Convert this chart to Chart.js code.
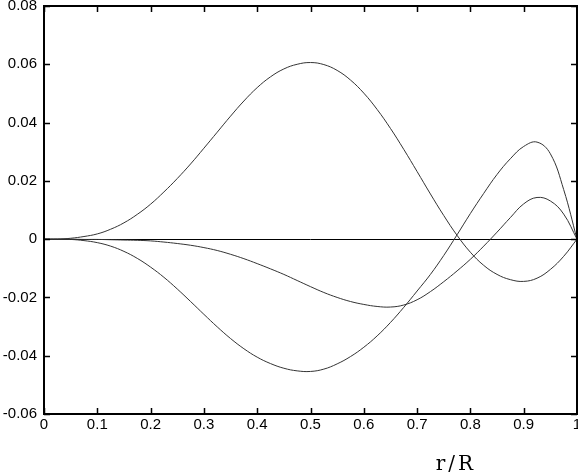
<!DOCTYPE html>
<html>
<head>
<meta charset="utf-8">
<script src="https://cdn.jsdelivr.net/npm/chart.js@4"></script>
<style>
  html, body { margin: 0; padding: 0; background: #fff; }
  #wrap { width: 578px; height: 472px; }
</style>
</head>
<body>
<div id="wrap"><canvas id="chart" width="578" height="472"></canvas></div>
<script>
// r/R sample positions, every 0.025
const radius = [0, 0.025, 0.05, 0.075, 0.1, 0.125, 0.15, 0.175, 0.2, 0.225, 0.25, 0.275, 0.3, 0.325, 0.35, 0.375,
                0.4, 0.425, 0.45, 0.475, 0.5, 0.525, 0.55, 0.575, 0.6, 0.625, 0.65, 0.675, 0.7, 0.725, 0.75, 0.775,
                0.8, 0.825, 0.85, 0.875, 0.9, 0.925, 0.95, 0.975, 1];

// curve with the big positive hump
const modeUp = [0, 0, 0.0003, 0.0009, 0.0018, 0.0034, 0.0056, 0.0085, 0.012, 0.0162, 0.0208, 0.0258, 0.0312, 0.0367, 0.0422, 0.0474,
                0.052, 0.0557, 0.0584, 0.06, 0.0606, 0.0599, 0.0579, 0.0546, 0.0501, 0.0445, 0.038, 0.0308, 0.0232, 0.0155, 0.0081, 0.0013,
                -0.0045, -0.009, -0.0121, -0.0139, -0.0145, -0.0134, -0.0104, -0.0059, 0];

// curve with the big negative dip
const modeDown = [0, 0, -0.0001, -0.0005, -0.0012, -0.0024, -0.0042, -0.0066, -0.0096, -0.0131, -0.0171, -0.0214, -0.0258, -0.0301, -0.0341, -0.0376,
                  -0.0405, -0.0427, -0.0443, -0.0452, -0.0454, -0.0446, -0.0428, -0.0403, -0.0371, -0.0332, -0.0286, -0.0234, -0.0178, -0.0121, -0.0056, 0.0015,
                  0.0088, 0.0157, 0.0222, 0.0276, 0.0318, 0.0333, 0.0293, 0.017, 0];

// shallow curve
const modeShallow = [0, 0, 0, -0.0001, -0.0001, -0.0002, -0.0003, -0.0004, -0.0006, -0.001, -0.0015, -0.0021, -0.0029, -0.0039, -0.0052, -0.0067,
                     -0.0084, -0.0102, -0.0121, -0.0142, -0.0163, -0.0183, -0.02, -0.0214, -0.0224, -0.0231, -0.0233, -0.0226, -0.0208, -0.018, -0.0146, -0.0109,
                     -0.0069, -0.0024, 0.0024, 0.0074, 0.0121, 0.0143, 0.0131, 0.0086, 0];

const xTicks = [0, 0.1, 0.2, 0.3, 0.4, 0.5, 0.6, 0.7, 0.8, 0.9, 1];
const yTicks = [-0.06, -0.04, -0.02, 0, 0.02, 0.04, 0.06, 0.08];
const xTitle = 'r/R';

const toPoints = ys => ys.map((y, i) => ({ x: radius[i], y: y }));
const fmt = v => String(+(+v).toFixed(2));

const lineStyle = {
    borderColor: '#333',
    borderWidth: 1,
    pointRadius: 0,
    fill: false,
    tension: 0.4
};

// frame, inward ticks on all four sides, and the axis title
const framePlugin = {
    id: 'frame',
    afterDraw(chart) {
        const { ctx, chartArea: a, scales: { x, y } } = chart;
        const len = 6;
        ctx.save();
        ctx.strokeStyle = '#000';
        ctx.lineWidth = 1.5;
        ctx.beginPath();
        xTicks.forEach(v => {
            const px = Math.round(x.getPixelForValue(v)) + 0.5;
            ctx.moveTo(px, a.bottom); ctx.lineTo(px, a.bottom - len);
            ctx.moveTo(px, a.top); ctx.lineTo(px, a.top + len);
        });
        yTicks.forEach(v => {
            const py = Math.round(y.getPixelForValue(v)) + 0.5;
            ctx.moveTo(a.left, py); ctx.lineTo(a.left + len, py);
            ctx.moveTo(a.right, py); ctx.lineTo(a.right - len, py);
        });
        ctx.stroke();
        ctx.lineWidth = 2;
        ctx.strokeRect(a.left, a.top, a.right - a.left, a.bottom - a.top);

        ctx.fillStyle = '#000';
        ctx.font = '20px "DejaVu Serif", "Liberation Serif", serif';
        ctx.letterSpacing = '3px';
        ctx.textAlign = 'left';
        ctx.textBaseline = 'alphabetic';
        ctx.fillText(xTitle, x.getPixelForValue(0.735), 470);
        ctx.restore();
    }
};

new Chart(document.getElementById('chart'), {
    type: 'line',
    data: {
        datasets: [
            { ...lineStyle, data: toPoints(modeUp) },
            { ...lineStyle, data: toPoints(modeDown) },
            { ...lineStyle, data: toPoints(modeShallow) }
        ]
    },
    options: {
        responsive: false,
        animation: false,
        events: [],
        layout: { padding: { top: 6, right: 1, left: 0, bottom: 0 } },
        plugins: {
            legend: { display: false },
            tooltip: { enabled: false }
        },
        scales: {
            x: {
                type: 'linear',
                min: 0,
                max: 1,
                afterBuildTicks: s => { s.ticks = xTicks.map(v => ({ value: v })); },
                afterFit: s => { s.height = 58; s.paddingLeft = 0; s.paddingRight = 0; },
                grid: { display: false, drawTicks: false },
                border: { display: false },
                ticks: {
                    color: '#000',
                    padding: 2,
                    maxRotation: 0,
                    autoSkip: false,
                    font: { family: '"Liberation Sans", Arial, sans-serif', size: 15 },
                    callback: v => fmt(v)
                }
            },
            y: {
                type: 'linear',
                min: -0.06,
                max: 0.08,
                afterBuildTicks: s => { s.ticks = yTicks.map(v => ({ value: v })); },
                afterFit: s => { s.width = 44; s.paddingTop = 0; s.paddingBottom = 0; },
                grid: {
                    drawTicks: false,
                    lineWidth: 1,
                    color: c => (c.tick && c.tick.value === 0 ? '#000' : 'rgba(0,0,0,0)')
                },
                border: { display: false },
                ticks: {
                    color: '#000',
                    padding: 7,
                    autoSkip: false,
                    font: { family: '"Liberation Sans", Arial, sans-serif', size: 15 },
                    callback: v => fmt(v)
                }
            }
        }
    },
    plugins: [framePlugin]
});
</script>
</body>
</html>
